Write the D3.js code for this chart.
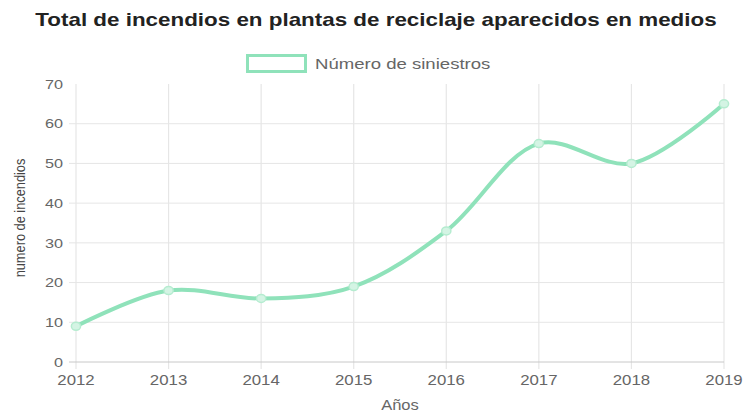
<!DOCTYPE html>
<html lang="es">
<head>
<meta charset="UTF-8">
<title>Incendios en plantas de reciclaje</title>
<style>
    body { margin: 0; background: #fff; }
    svg { display: block; font-family: "Liberation Sans", Arial, sans-serif; }
</style>
</head>
<body>
<div id="chart"></div>
<script src="https://d3js.org/d3.v7.min.js"></script>
<script>
    const years = ['2012', '2013', '2014', '2015', '2016', '2017', '2018', '2019'];
    const siniestros = [9, 18, 16, 19, 33, 55, 50, 65];
    const yTicks = [0, 10, 20, 30, 40, 50, 60, 70];

    const width = 744, height = 414;
    const margin = { top: 84, right: 20, bottom: 52, left: 76 };
    const innerWidth = width - margin.left - margin.right;   // 648
    const innerHeight = height - margin.top - margin.bottom; // 278
    const lineColor = '#8fe2ba';
    const gridColor = '#e6e6e6';
    const textColor = '#666';

    // la imagen original está algo ensanchada en horizontal: se estira el texto igual
    function stretch(sel, k) {
        sel.each(function () {
            const len = this.getComputedTextLength();
            d3.select(this).attr('textLength', len * k).attr('lengthAdjust', 'spacingAndGlyphs');
        });
    }

    const svg = d3.select('#chart').append('svg').attr('width', width).attr('height', height);

    // título
    svg.append('text')
        .attr('x', 376).attr('y', 26)
        .attr('text-anchor', 'middle')
        .attr('font-size', 18.5).attr('font-weight', 'bold').attr('fill', '#222')
        .text('Total de incendios en plantas de reciclaje aparecidos en medios')
        .call(stretch, 1.21);

    // leyenda
    const legend = svg.append('g');
    legend.append('rect')
        .attr('x', 247.5).attr('y', 55.5).attr('width', 58).attr('height', 16)
        .attr('fill', '#fff').attr('stroke', lineColor).attr('stroke-width', 3);
    legend.append('text')
        .attr('x', 315).attr('y', 69)
        .attr('font-size', 14.5).attr('fill', textColor)
        .text('Número de siniestros')
        .call(stretch, 1.28);

    const g = svg.append('g').attr('transform', `translate(${margin.left}, ${margin.top})`);

    const x = d3.scalePoint().domain(years).range([0, innerWidth]);
    const y = d3.scaleLinear().domain([0, 70]).range([innerHeight, 0]);

    // rejilla vertical + ticks
    g.selectAll('.vgrid').data(years).enter().append('line')
        .attr('x1', d => x(d)).attr('x2', d => x(d))
        .attr('y1', 0).attr('y2', innerHeight + 7)
        .attr('stroke', gridColor).attr('stroke-width', 1.2);

    // rejilla horizontal (sin línea superior)
    g.selectAll('.hgrid').data(yTicks.filter(d => d > 0 && d < 70)).enter().append('line')
        .attr('x1', -7).attr('x2', innerWidth)
        .attr('y1', d => y(d)).attr('y2', d => y(d))
        .attr('stroke', gridColor).attr('stroke-width', 1);

    // eje cero
    g.append('line')
        .attr('x1', -7).attr('x2', innerWidth)
        .attr('y1', y(0)).attr('y2', y(0))
        .attr('stroke', '#c8c8c8').attr('stroke-width', 1);

    // etiquetas eje Y
    g.selectAll('.ylab').data(yTicks).enter().append('text')
        .attr('x', -13).attr('y', d => y(d)).attr('dy', '0.35em')
        .attr('text-anchor', 'end').attr('font-size', 13.5).attr('fill', textColor)
        .text(d => d)
        .call(stretch, 1.2);

    // etiquetas eje X
    g.selectAll('.xlab').data(years).enter().append('text')
        .attr('x', d => x(d)).attr('y', innerHeight + 23)
        .attr('text-anchor', 'middle').attr('font-size', 15).attr('fill', textColor)
        .text(d => d)
        .call(stretch, 1.12);

    // títulos de ejes
    svg.append('text')
        .attr('transform', `translate(25, ${margin.top + 134}) scale(1.2, 1) rotate(-90)`)
        .attr('text-anchor', 'middle').attr('font-size', 12.8).attr('fill', '#444')
        .text('numero de incendios');
    svg.append('text')
        .attr('x', margin.left + innerWidth / 2).attr('y', 410)
        .attr('text-anchor', 'middle').attr('font-size', 14).attr('fill', textColor)
        .text('Años')
        .call(stretch, 1.18);

    // línea
    const data = years.map((d, i) => ({ year: d, value: siniestros[i] }));
    const line = d3.line()
        .x(d => x(d.year)).y(d => y(d.value))
        .curve(d3.curveCatmullRom.alpha(0.5));

    g.append('path').datum(data)
        .attr('d', line)
        .attr('fill', 'none').attr('stroke', lineColor).attr('stroke-width', 4);

    g.selectAll('.pt').data(data).enter().append('ellipse')
        .attr('cx', d => x(d.year)).attr('cy', d => y(d.value)).attr('rx', 4.6).attr('ry', 4)
        .attr('fill', '#d4f4e4').attr('stroke', '#b5ecd0').attr('stroke-width', 1.5);
</script>
</body>
</html>
